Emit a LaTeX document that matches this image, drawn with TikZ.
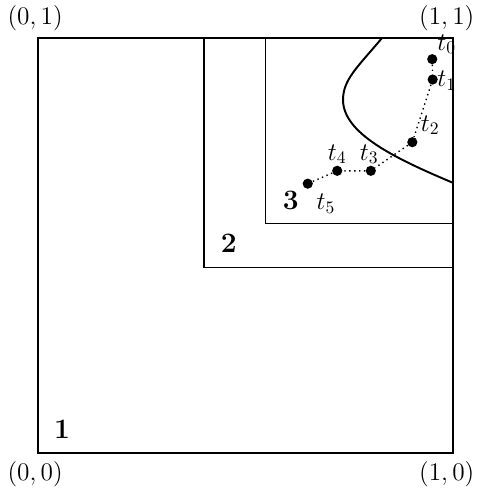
\documentclass[tikz,border=0pt]{standalone}
\usepackage{amsmath}
\usetikzlibrary{positioning}

\begin{document}
\begin{tikzpicture}[
      x=8.3cm, y=8.3cm,
      font=\fontsize{13.8}{16}\selectfont,
      % Reusable styles
      region/.style={draw=black, line width=0.6pt},
      outerbox/.style={draw=black, line width=1.1pt},
      boundary/.style={draw=black, line width=1.1pt},
      pt/.style={circle, fill=black, inner sep=0pt, minimum size=5.8pt},
      traj/.style={dotted, line width=0.8pt},
      tag/.style={inner sep=1pt},
      num/.style={font=\fontsize{16}{18}\selectfont\bfseries}
    ]
    \useasboundingbox (-0.0916,-0.094) rectangle (1.0675,1.0916);

    % Regions
    \draw[outerbox] (0,0) rectangle (1,1);
    \draw[region] (0.4,0.448) rectangle (1,1);
    \draw[region] (0.549,0.552) rectangle (1,1);

    % Boundary curve
    \draw[boundary] (0.829,1) .. controls (0.77,0.93) and (0.735,0.9) .. (0.735,0.851)
      .. controls (0.735,0.77) and (0.86,0.71) .. (1,0.651);

    % Region numbers
    \node[num] (r1) at (0.058,0.058) {1};
    \node[num] (r2) at (0.46,0.506) {2};
    \node[num] (r3) at (0.609,0.609) {3};

    % Corner labels
    \node (c00) at (-0.007,-0.05) {$(0,0)$};
    \node (c10) at (0.985,-0.05) {$(1,0)$};
    \node (c01) at (-0.007,1.048) {$(0,1)$};
    \node (c11) at (0.985,1.048) {$(1,1)$};

    % Trajectory points
    \node[pt] (t0) at (0.950,0.949) {};
    \node[pt] (t1) at (0.951,0.900) {};
    \node[pt] (t2) at (0.902,0.749) {};
    \node[pt] (t3) at (0.802,0.680) {};
    \node[pt] (t4) at (0.721,0.680) {};
    \node[pt] (t5) at (0.650,0.649) {};

    \node[tag] at (0.985,0.985) {$t_0$};
    \node[tag] at (0.985,0.898) {$t_1$};
    \node[tag] at (0.945,0.790) {$t_2$};
    \node[tag] at (0.798,0.720) {$t_3$};
    \node[tag] at (0.721,0.720) {$t_4$};
    \node[tag] at (0.694,0.600) {$t_5$};

    % Connectors
    \draw[traj] (t0) -- (t1) -- (t2) -- (t3) -- (t4) -- (t5);
  \end{tikzpicture}
\end{document}
